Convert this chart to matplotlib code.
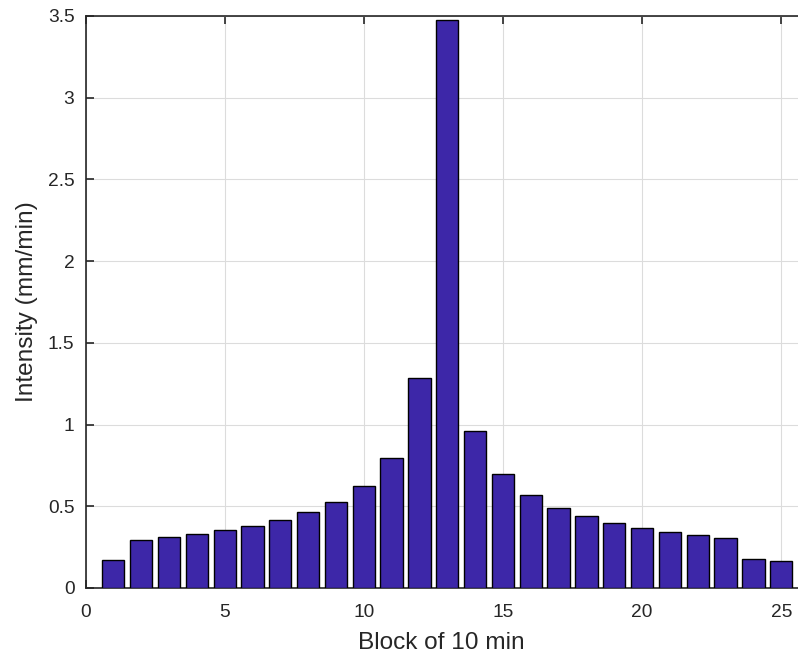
import matplotlib
matplotlib.use("Agg")
import matplotlib.pyplot as plt
import numpy as np

plt.rcParams['font.family'] = ['Liberation Sans', 'DejaVu Sans']

blocks = list(range(1, 26))
intensity = [0.170, 0.292, 0.314, 0.332, 0.353, 0.381, 0.416, 0.463, 0.524, 0.622,
             0.797, 1.285, 3.474, 0.961, 0.696, 0.567, 0.490, 0.439, 0.398, 0.367,
             0.341, 0.322, 0.306, 0.176, 0.165]
xticks = [0, 5, 10, 15, 20, 25]
yticks = [0, 0.5, 1, 1.5, 2, 2.5, 3, 3.5]
ytick_labels = ['0', '0.5', '1', '1.5', '2', '2.5', '3', '3.5']

W, H = 798, 661
fig = plt.figure(figsize=(W / 100, H / 100), dpi=100)
left, right, top, bottom = 85.5, 798, 16, 588
ax = fig.add_axes([left / W, 1 - bottom / H, (right - left) / W, (bottom - top) / H])

ax.bar(blocks, intensity, width=0.8, color='#3D27A8', edgecolor='black', linewidth=1.0, zorder=3)

ax.set_xlim(0, (right - left) / 27.83)
ax.set_ylim(0, 3.5)
ax.set_xticks(xticks)
ax.set_yticks(yticks)
ax.set_yticklabels(ytick_labels)

ax.grid(True, color='#dcdcdc', linewidth=0.8, zorder=0)
ax.set_axisbelow(True)

for s in ['left', 'bottom', 'top']:
    ax.spines[s].set_color('#262626')
    ax.spines[s].set_linewidth(1.2)
ax.spines['right'].set_visible(False)

ax.tick_params(axis='both', direction='in', length=6, width=1.2, color='#262626',
               labelcolor='#262626', labelsize=13.8, top=True, right=False)
ax.tick_params(axis='x', pad=11.5)
ax.tick_params(axis='y', pad=8)

ax.set_xlabel('Block of 10 min', fontsize=17.6, color='#262626', labelpad=8)
ax.set_ylabel('Intensity (mm/min)', fontsize=17.6, color='#262626', labelpad=7)

fig.savefig('out.png', dpi=100)
